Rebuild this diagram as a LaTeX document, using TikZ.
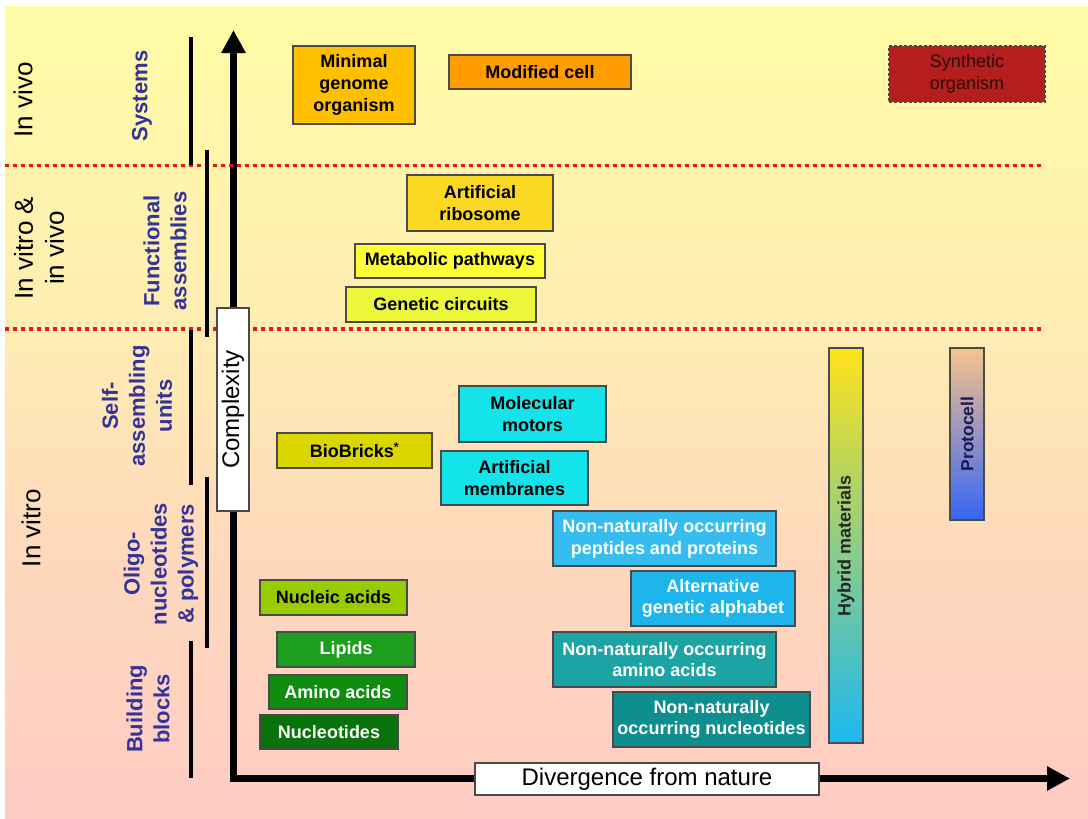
\documentclass[tikz,border=0pt]{standalone}
\usepackage{fontspec}
\setmainfont{Liberation Sans}
\usetikzlibrary{arrows.meta}
\definecolor{bgtop}{HTML}{FFFCA6}
\definecolor{bgmid}{HTML}{FEEDB2}
\definecolor{bgmid2}{HTML}{FED8BC}
\definecolor{bgbot}{HTML}{FFCCC4}
\definecolor{catblue}{HTML}{333399}
\definecolor{boxline}{HTML}{4A4A4A}
\definecolor{dotred}{HTML}{E01818}
\definecolor{cMin}{HTML}{FFC000}
\definecolor{cMod}{HTML}{FF9C00}
\definecolor{cSyn}{HTML}{B41E1E}
\definecolor{cRibo}{HTML}{FBD824}
\definecolor{cMet}{HTML}{FFFF38}
\definecolor{cGen}{HTML}{ECF73A}
\definecolor{cBio}{HTML}{DCD600}
\definecolor{cCyan}{HTML}{14E4EA}
\definecolor{cPep}{HTML}{36BCEE}
\definecolor{cAlt}{HTML}{1EB4EC}
\definecolor{cAmNN}{HTML}{1CA3A3}
\definecolor{cNucNN}{HTML}{0E8E8E}
\definecolor{cNucl}{HTML}{99CC00}
\definecolor{cLip}{HTML}{1E9E1E}
\definecolor{cAmi}{HTML}{108C10}
\definecolor{cNuc}{HTML}{0A720A}
\definecolor{hybTop}{HTML}{FFE21A}
\definecolor{hybBot}{HTML}{1CB8F0}
\definecolor{proTop}{HTML}{F8C28A}
\definecolor{proBot}{HTML}{3566F5}
\definecolor{proText}{HTML}{1A1A50}
\definecolor{synText}{HTML}{2A0C0C}
\pgfdeclareverticalshading{bgshade}{100bp}{color(0bp)=(bgbot); color(25bp)=(bgbot); color(41bp)=(bgmid2); color(55bp)=(bgmid); color(75bp)=(bgtop); color(100bp)=(bgtop)}
\newcommand\bxfont{\fontsize{18}{21.7}\selectfont\bfseries}
\newcommand\catfnt{\fontsize{22}{27}\selectfont\bfseries}
\newcommand\regfnt{\fontsize{26}{31}\selectfont}
\newcommand\axfnt{\fontsize{24}{28}\selectfont}
\tikzset{
  box/.style={draw=boxline, line width=1.2pt, inner sep=0pt, align=center, font=\bxfont},
  wbox/.style={box, text=white},
  cat/.style={rotate=90, align=center, text=catblue, font=\catfnt, inner sep=0pt},
  region/.style={rotate=90, align=center, font=\regfnt, inner sep=0pt},
  bracket/.style={line width=3.5pt},
  sepline/.style={dotred, line width=3.5pt, dash pattern=on 3.5pt off 4.5pt},
  axis/.style={line width=7.5pt, line join=miter, arrows={Triangle[length=23pt,width=23pt]-Triangle[length=23pt,width=23pt]}},
  axbox/.style={draw=boxline, line width=1.2pt, fill=white, inner sep=0pt, font=\axfnt},
}
\begin{document}
\begin{tikzpicture}[x=1pt,y=-1pt]
\useasboundingbox (0,0) rectangle (1088,819);
\fill[white] (0,0) rectangle (1088,819);
\shade[shading=bgshade] (5,6) rectangle (1088,819);

% axes
\coordinate (origin) at (233.5,778.5);
\coordinate (ytop) at (233.5,30);
\coordinate (xend) at (1070,778.5);
\draw[axis] (ytop) -- (origin) -- (xend);

% separators
\draw[sepline] (5,165.5) -- (1042,165.5);
\draw[sepline] (5,329) -- (1042,329);

% brackets
\draw[bracket] (191,37) -- (191,165);
\draw[bracket] (207,150) -- (207,337);
\draw[bracket] (191,330) -- (191,485);
\draw[bracket] (207,477) -- (207,648);
\draw[bracket] (191,641) -- (191,778);

% region labels
\node[region] (rvivo) at (23,100) {In vivo};
\node[region] (rboth) at (39,248) {In vitro \&\\in vivo};
\node[region] (rvitro) at (31,528) {In vitro};

% category labels
\node[cat] (csys) at (142,96) {Systems};
\node[cat] (cfun) at (165,251) {Functional\\assemblies};
\node[cat] (cself) at (137,406) {Self-\\assembling\\units};
\node[cat] (coligo) at (161,564) {Oligo-\\nucleotides\\\& polymers};
\node[cat] (cbuild) at (148,709) {Building\\blocks};

% axis boxes
\node[axbox, rotate=90, minimum width=203pt, minimum height=32pt] (complex) at (233,409.5) {Complexity};
\node[axbox, minimum width=344pt, minimum height=32pt] (diverg) at (647,779) {Divergence from nature};

% systems
\node[box, fill=cMin, minimum width=122pt, minimum height=78pt] (mingen) at (354,85) {Minimal\\genome\\organism};
\node[box, fill=cMod, minimum width=182pt, minimum height=34pt] (modcell) at (540,72) {Modified cell};
\node[box, fill=cSyn, dashed, dash pattern=on 3pt off 2pt, text=synText, minimum width=156pt, minimum height=56pt, font=\fontsize{18}{22}\selectfont] (synth) at (967,74) {Synthetic\\organism};

% functional assemblies
\node[box, fill=cRibo, minimum width=146pt, minimum height=56pt] (ribo) at (480,203) {Artificial\\ribosome};
\node[box, fill=cMet, minimum width=190pt, minimum height=34pt] (metab) at (450,261) {Metabolic pathways};
\node[box, fill=cGen, minimum width=190pt, minimum height=35pt] (genet) at (441,304.5) {Genetic circuits};

% self-assembling units
\node[box, fill=cBio, minimum width=155pt, minimum height=35pt] (biob) at (354.5,450.5) {BioBricks\textsuperscript{*}};
\node[box, fill=cCyan, minimum width=147pt, minimum height=56pt] (motors) at (532.5,414) {Molecular\\motors};
\node[box, fill=cCyan, minimum width=147pt, minimum height=54pt] (membr) at (514.5,478) {Artificial\\membranes};

% oligos / polymers
\node[wbox, fill=cPep, minimum width=223pt, minimum height=55pt] (pept) at (664.5,538.5) {Non-naturally occurring\\peptides and proteins};
\node[wbox, fill=cAlt, minimum width=164pt, minimum height=55pt] (alph) at (713,598.5) {Alternative\\genetic alphabet};
\node[box, fill=cNucl, minimum width=147pt, minimum height=35pt] (nucleic) at (333.5,597.5) {Nucleic acids};

% building blocks
\node[wbox, fill=cAmNN, minimum width=223pt, minimum height=55pt] (aminonn) at (664.5,659.5) {Non-naturally occurring\\amino acids};
\node[wbox, fill=cNucNN, minimum width=197pt, minimum height=55pt] (nucnn) at (711.5,719.5) {Non-naturally\\occurring nucleotides};
\node[wbox, fill=cLip, minimum width=138pt, minimum height=35pt] (lipids) at (346,649.5) {Lipids};
\node[wbox, fill=cAmi, minimum width=138pt, minimum height=34pt] (amino) at (338,692) {Amino acids};
\node[wbox, fill=cNuc, minimum width=138pt, minimum height=34pt] (nucleo) at (329,732) {Nucleotides};

% hybrid and protocell
\node[draw=boxline, line width=1.2pt, top color=hybTop, bottom color=hybBot, minimum width=34pt, minimum height=395pt, inner sep=0pt,
  label={[rotate=90, font=\fontsize{18}{20}\selectfont\bfseries, text=black!85]center:Hybrid materials}] (hybrid) at (846,545.5) {};
\node[draw=boxline, line width=1.2pt, top color=proTop, bottom color=proBot, minimum width=34pt, minimum height=172pt, inner sep=0pt,
  label={[rotate=90, font=\fontsize{17.5}{20}\selectfont\bfseries, text=proText]center:Protocell}] (proto) at (967,434) {};
\end{tikzpicture}
\end{document}
